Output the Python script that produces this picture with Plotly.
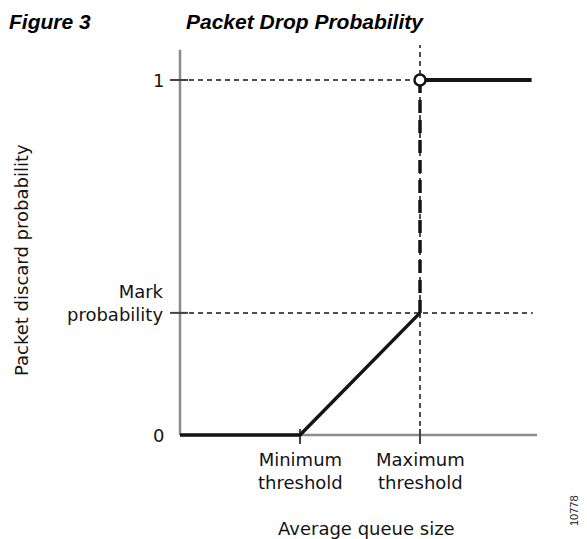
import plotly.graph_objects as go

# ---- data (abstract units: queue size in threshold units, probability 0..1) ----
min_th = 1.0
max_th = 2.0
x_end = 2.975          # end of x axis
mark_p = 0.344         # mark probability level
y_top = 1.085          # top of y axis
line_end = 2.93        # end of drop-probability curve at p=1
dash_end = 2.94        # end of mark-probability guide

curve_x = [0.0, min_th, max_th]
curve_y = [0.0, 0.0, mark_p]
jump_x = [max_th, max_th]
jump_y = [mark_p, 1.0]
full_x = [max_th, line_end]
full_y = [1.0, 1.0]

y_tick_vals = [0.0, mark_p, 1.0]
y_tick_text = ["0", "Mark<br>probability", "1"]
x_tick_vals = [min_th, max_th]
x_tick_text = ["Minimum<br>threshold", "Maximum<br>threshold"]

title_left = "Figure 3"
title_main = "Packet Drop Probability"
x_title = "Average queue size"
y_title = "Packet discard probability"
fig_id = "10778"

# ---- pixel mapping helpers (for the full-canvas plot area) ----
W, H = 587, 539
X0, PXU = 180, 120.0     # pixel of x=0, pixels per x unit
Y0, PYU = 435, 355.0     # pixel of y=0, pixels per y unit
def dx(px): return (px - X0) / PXU
def dy(py): return (Y0 - py) / PYU

AX = "#8c8c8c"
INK = "#141414"
FONT = "DejaVu Sans"

fig = go.Figure()

# axes (gray)
fig.add_trace(go.Scatter(x=[0, 0], y=[0, y_top], mode="lines",
                         line=dict(color=AX, width=2.5), hoverinfo="skip"))
fig.add_trace(go.Scatter(x=[0, x_end], y=[0, 0], mode="lines",
                         line=dict(color=AX, width=2.5), hoverinfo="skip"))

# thin dashed guides
fig.add_trace(go.Scatter(x=[0, max_th], y=[1.0, 1.0], mode="lines",
                         line=dict(color=INK, width=1.5, dash="5px,4px"), hoverinfo="skip"))
fig.add_trace(go.Scatter(x=[0, dash_end], y=[mark_p, mark_p], mode="lines",
                         line=dict(color=INK, width=1.5, dash="5px,4px"), hoverinfo="skip"))
fig.add_trace(go.Scatter(x=[max_th, max_th], y=[0, dy(45)], mode="lines",
                         line=dict(color=INK, width=1.5, dash="5px,4px"), hoverinfo="skip"))

# ticks
for v in [mark_p, 1.0]:
    fig.add_trace(go.Scatter(x=[dx(170), dx(188)], y=[v, v], mode="lines",
                             line=dict(color="#444444", width=2), hoverinfo="skip"))
for v in x_tick_vals:
    fig.add_trace(go.Scatter(x=[v, v], y=[dy(429), dy(444)], mode="lines",
                             line=dict(color="#444444", width=2), hoverinfo="skip"))

# drop probability curve
fig.add_trace(go.Scatter(x=curve_x, y=curve_y, mode="lines",
                         line=dict(color=INK, width=3.5), hoverinfo="skip"))
fig.add_trace(go.Scatter(x=jump_x, y=jump_y, mode="lines",
                         line=dict(color=INK, width=3.5, dash="13px,7px"), hoverinfo="skip"))
fig.add_trace(go.Scatter(x=full_x, y=full_y, mode="lines",
                         line=dict(color=INK, width=3.8), hoverinfo="skip"))
fig.add_trace(go.Scatter(x=[max_th], y=[1.0], mode="markers",
                         marker=dict(symbol="circle", size=11, color="white",
                                     line=dict(color=INK, width=2.5)),
                         hoverinfo="skip"))

ann = []
# y tick labels
for v, t in zip(y_tick_vals, y_tick_text):
    yy = v if "<br>" not in t else dy(302.5)
    ann.append(dict(x=dx(166), y=yy, xref="x", yref="y", text=t, showarrow=False,
                    xanchor="right", yanchor="middle", align="right",
                    font=dict(family=FONT, size=18, color=INK)))
# x tick labels
for v, t in zip(x_tick_vals, x_tick_text):
    ann.append(dict(x=v, y=dy(471), xref="x", yref="y", text=t, showarrow=False,
                    xanchor="center", yanchor="middle", align="center",
                    font=dict(family=FONT, size=18, color=INK)))
# axis titles
ann.append(dict(x=dx(366), y=dy(528), xref="x", yref="y", text=x_title, showarrow=False,
                xanchor="center", yanchor="middle",
                font=dict(family=FONT, size=18, color=INK)))
ann.append(dict(x=dx(21), y=dy(260), xref="x", yref="y", text=y_title, showarrow=False,
                textangle=-90, xanchor="center", yanchor="middle",
                font=dict(family=FONT, size=18, color=INK)))
# figure titles
ann.append(dict(x=7 / W, y=1 - 21 / H, xref="paper", yref="paper", text="<b><i>" + title_left + "</i></b>",
                showarrow=False, xanchor="left", yanchor="middle",
                font=dict(family="Liberation Sans", size=21, color="#000000")))
ann.append(dict(x=184 / W, y=1 - 21 / H, xref="paper", yref="paper", text="<b><i>" + title_main + "</i></b>",
                showarrow=False, xanchor="left", yanchor="middle",
                font=dict(family="Liberation Sans", size=21, color="#000000")))
# figure id
ann.append(dict(x=574 / W, y=1 - 511 / H, xref="paper", yref="paper", text=fig_id,
                showarrow=False, textangle=-90, xanchor="center", yanchor="middle",
                font=dict(family="Liberation Sans", size=11, color="#222222")))

fig.update_layout(
    width=W, height=H, autosize=False,
    margin=dict(l=0, r=0, t=0, b=0),
    paper_bgcolor="white", plot_bgcolor="white",
    showlegend=False,
    xaxis=dict(range=[dx(0), dx(W)], visible=False, fixedrange=True),
    yaxis=dict(range=[dy(H), dy(0)], visible=False, fixedrange=True),
    annotations=ann,
)

fig.write_html(
    "out.html",
    config={"displayModeBar": False},
    post_script="document.body.style.margin='0';document.body.style.overflow='hidden';",
)
